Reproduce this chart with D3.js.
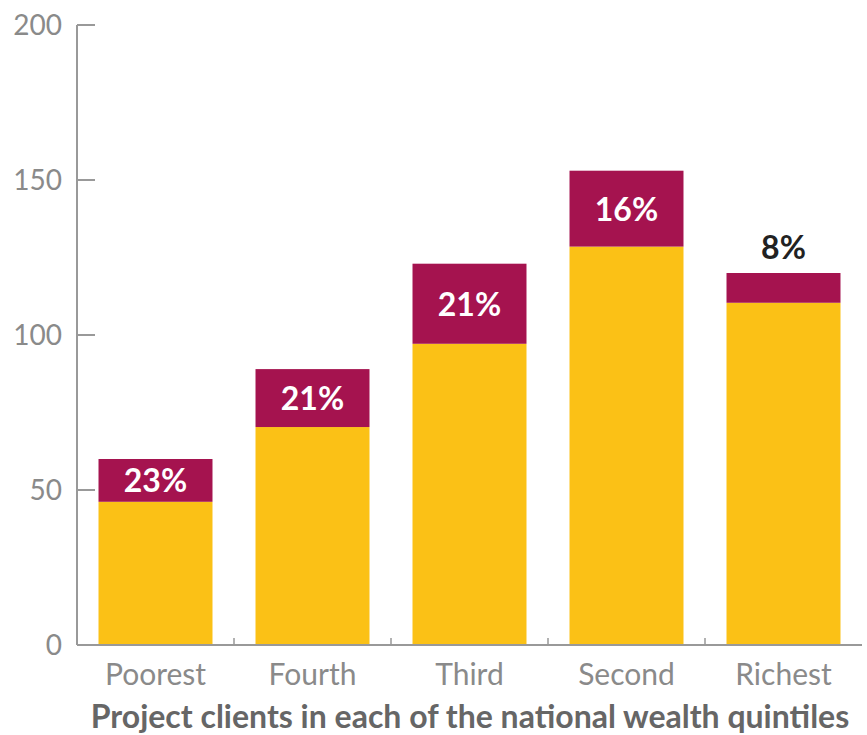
<!DOCTYPE html>
<html>
<head>
<meta charset="utf-8">
<script src="https://cdn.jsdelivr.net/npm/d3@7"></script>
<style>
  body { margin: 0; background: #fff; }
  text { font-family: Lato, "Open Sans", sans-serif; }
</style>
</head>
<body>
<div id="graph"></div>
<script>
var categories = ["Poorest", "Fourth", "Third", "Second", "Richest"]
var totals = [60, 89, 123, 153, 120]
var shares = [23, 21, 21, 16, 8]
var yTicks = [0, 50, 100, 150, 200]
var title = "Project clients in each of the national wealth quintiles"

var width = 867, height = 735
var margin = {top: 25, left: 77, bottom: 90, right: 5}
var chartWidth = width - margin.left - margin.right
var chartHeight = height - margin.top - margin.bottom

var svg = d3.select("#graph").append("svg")
    .attr("width", width).attr("height", height)
var chartLayer = svg.append("g")
    .attr("transform", "translate(" + [margin.left, margin.top] + ")")

var x = d3.scaleBand().domain(categories).range([0, chartWidth])
    .paddingInner(0.274).paddingOuter(0.137)
var y = d3.scaleLinear().domain([0, 200]).range([chartHeight, 0])

var data = categories.map(function(c, i) {
    var top = totals[i] * shares[i] / 100
    return {cat: c, total: totals[i], share: shares[i], base: totals[i] - top}
})

// bars: yellow base, maroon top part
chartLayer.selectAll(".base").data(data).enter().append("rect")
    .attr("x", function(d) { return x(d.cat) })
    .attr("width", x.bandwidth())
    .attr("y", function(d) { return y(d.base) })
    .attr("height", function(d) { return y(0) - y(d.base) })
    .attr("fill", "#FBC116")

chartLayer.selectAll(".top").data(data).enter().append("rect")
    .attr("x", function(d) { return x(d.cat) })
    .attr("width", x.bandwidth())
    .attr("y", function(d) { return y(d.total) })
    .attr("height", function(d) { return y(d.base) - y(d.total) })
    .attr("fill", "#A5134F")

chartLayer.selectAll(".lbl").data(data).enter().append("text")
    .attr("x", function(d) { return x(d.cat) + x.bandwidth() / 2 })
    .attr("y", function(d) {
        var inside = y(d.base) - y(d.total) > 35
        return inside ? (y(d.base) + y(d.total)) / 2 + 12 : y(d.total) - 14
    })
    .attr("text-anchor", "middle")
    .attr("font-size", 32)
    .attr("font-weight", "bold")
    .attr("fill", function(d) { return y(d.base) - y(d.total) > 35 ? "#fff" : "#222" })
    .text(function(d) { return d.share + "%" })

// y axis
var yAxis = chartLayer.append("g")
yAxis.append("line").attr("x1", 0).attr("x2", 0).attr("y1", y(200)).attr("y2", y(0))
    .attr("stroke", "#999").attr("stroke-width", 2)
yAxis.selectAll(".yt").data(yTicks).enter().append("line")
    .attr("x1", 0).attr("x2", 18)
    .attr("y1", function(d) { return y(d) }).attr("y2", function(d) { return y(d) })
    .attr("stroke", "#999").attr("stroke-width", 2)
yAxis.selectAll(".yl").data(yTicks).enter().append("text")
    .attr("x", -15).attr("y", function(d) { return y(d) + 10 })
    .attr("text-anchor", "end").attr("font-size", 28).attr("fill", "#8a8a8a")
    .text(function(d) { return d })

// x axis
var xAxis = chartLayer.append("g")
xAxis.append("line").attr("x1", 0).attr("x2", chartWidth).attr("y1", y(0)).attr("y2", y(0))
    .attr("stroke", "#999").attr("stroke-width", 2)
xAxis.selectAll(".xt").data(categories.slice(0, -1)).enter().append("line")
    .attr("x1", function(d) { return x(d) + x.step() - x.step() * x.paddingInner() / 2 })
    .attr("x2", function(d) { return x(d) + x.step() - x.step() * x.paddingInner() / 2 })
    .attr("y1", y(0) - 7).attr("y2", y(0))
    .attr("stroke", "#999").attr("stroke-width", 1.5)
xAxis.selectAll(".xl").data(categories).enter().append("text")
    .attr("x", function(d) { return x(d) + x.bandwidth() / 2 })
    .attr("y", y(0) + 40)
    .attr("text-anchor", "middle").attr("font-size", 30).attr("fill", "#8a8a8a")
    .text(function(d) { return d })

svg.append("text")
    .attr("x", 470).attr("y", 728)
    .attr("text-anchor", "middle").attr("font-size", 32).attr("font-weight", "bold")
    .attr("fill", "#666")
    .text(title)
</script>
</body>
</html>
